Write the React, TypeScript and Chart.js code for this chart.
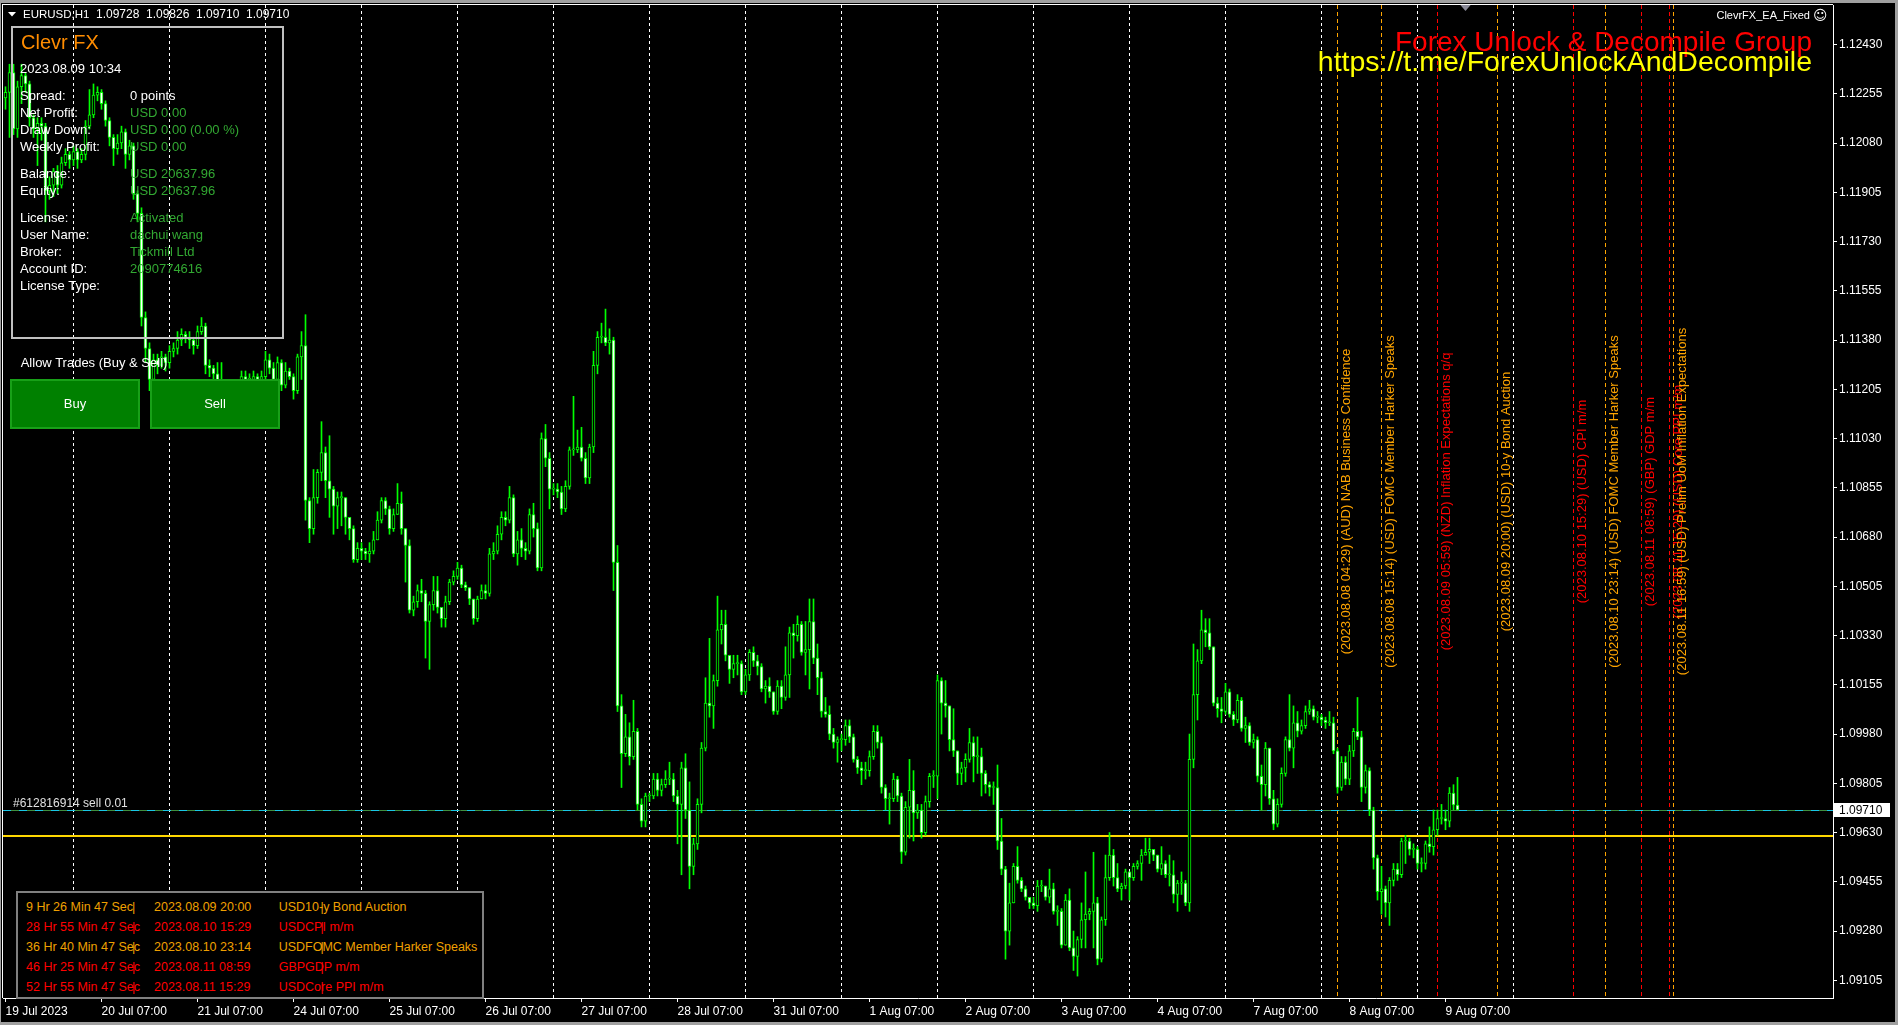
import React, { useEffect, useRef } from 'react';
import { Chart, registerables } from 'chart.js';

Chart.register(...registerables);

// ---------------- DATA ----------------
// Trading calendar (hourly bars). First visible bar: 19 Jul 06:00.
const CALENDAR = ['2023.07.19', '2023.07.20', '2023.07.21', '2023.07.24', '2023.07.25', '2023.07.26', '2023.07.27', '2023.07.28', '2023.07.31', '2023.08.01', '2023.08.02', '2023.08.03', '2023.08.04', '2023.08.07', '2023.08.08', '2023.08.09', '2023.08.10', '2023.08.11'];
const FIRST_HOUR = 6;
const FIRST_OPEN = 1220; // pips: price = 1 + v / 10000

// Closing prices per day, in pips above 1.0000
const closePips: number[][] = [
  [1224, 1226, 1233, 1213, 1228, 1232, 1229, 1217, 1213, 1215, 1214, 1191, 1193, 1198, 1193, 1201, 1204, 1202],
  [1205, 1202, 1204, 1214, 1218, 1225, 1226, 1222, 1216, 1210, 1206, 1208, 1212, 1204, 1207, 1190, 1183, 1146, 1135, 1124, 1131, 1129, 1132, 1130],
  [1134, 1135, 1138, 1140, 1139, 1138, 1136, 1141, 1143, 1129, 1128, 1126, 1123, 1119, 1116, 1114, 1119, 1122, 1125, 1124, 1124, 1125, 1124, 1125],
  [1131, 1128, 1124, 1130, 1122, 1127, 1125, 1120, 1132, 1136, 1081, 1071, 1082, 1091, 1098, 1088, 1085, 1079, 1082, 1082, 1075, 1071, 1060, 1064],
  [1063, 1062, 1063, 1067, 1074, 1081, 1078, 1071, 1076, 1080, 1071, 1065, 1042, 1045, 1049, 1048, 1038, 1044, 1049, 1043, 1039, 1045, 1052, 1054],
  [1057, 1051, 1050, 1046, 1039, 1046, 1049, 1048, 1062, 1063, 1069, 1075, 1074, 1082, 1062, 1067, 1064, 1063, 1076, 1071, 1057, 1103, 1096, 1085],
  [1085, 1084, 1078, 1086, 1099, 1099, 1100, 1096, 1089, 1100, 1129, 1139, 1139, 1137, 1138, 1059, 1008, 991, 997, 990, 999, 973, 967, 976],
  [976, 982, 978, 980, 982, 982, 976, 973, 986, 971, 951, 959, 973, 993, 1009, 1008, 1017, 1035, 1037, 1026, 1021, 1023, 1023, 1013],
  [1019, 1027, 1024, 1022, 1014, 1015, 1013, 1006, 1015, 1011, 1019, 1034, 1033, 1037, 1027, 1028, 1038, 1025, 1018, 1006, 1005, 998, 995, 996],
  [996, 1001, 997, 989, 986, 985, 985, 990, 999, 995, 979, 975, 975, 982, 976, 956, 972, 978, 970, 971, 963, 974, 983, 983],
  [1017, 1009, 1008, 996, 992, 984, 986, 989, 995, 990, 990, 984, 980, 979, 979, 960, 950, 928, 938, 951, 946, 943, 940, 938],
  [937, 944, 944, 940, 943, 935, 935, 923, 939, 922, 919, 925, 932, 934, 935, 938, 918, 932, 947, 955, 947, 943, 944, 949],
  [947, 951, 952, 955, 956, 957, 955, 950, 952, 948, 948, 941, 945, 945, 938, 989, 1012, 1024, 1035, 1034, 1029, 1009, 1007, 1006],
  [1013, 1005, 1003, 1010, 1000, 1001, 995, 996, 983, 980, 993, 975, 966, 973, 984, 996, 993, 1002, 999, 1001, 1006, 1007, 1004, 1004],
  [1003, 1002, 1002, 992, 979, 988, 982, 992, 999, 997, 979, 985, 971, 954, 942, 943, 938, 946, 950, 948, 960, 960, 957, 957],
  [952, 952, 959, 958, 964, 968, 968, 967, 977, 972.8, 971],
];
const highPips: number[][] = [
  [1226, 1228, 1236, 1236, 1230, 1236, 1233, 1230, 1218, 1217, 1217, 1215, 1196, 1199, 1200, 1203, 1206, 1205],
  [1207, 1206, 1206, 1216, 1227, 1229, 1228, 1227, 1223, 1217, 1211, 1211, 1214, 1213, 1209, 1208, 1191, 1185, 1148, 1137, 1133, 1133, 1134, 1133],
  [1136, 1137, 1141, 1142, 1141, 1141, 1139, 1143, 1146, 1144, 1131, 1129, 1130, 1130, 1122, 1119, 1121, 1124, 1127, 1127, 1126, 1127, 1126, 1127],
  [1134, 1133, 1130, 1132, 1131, 1130, 1128, 1126, 1133, 1141, 1147, 1082, 1092, 1092, 1109, 1100, 1104, 1086, 1084, 1084, 1082, 1075, 1072, 1066],
  [1066, 1064, 1066, 1070, 1077, 1082, 1082, 1079, 1078, 1087, 1084, 1071, 1067, 1047, 1051, 1053, 1049, 1045, 1054, 1054, 1043, 1047, 1053, 1056],
  [1059, 1058, 1052, 1050, 1046, 1047, 1051, 1051, 1064, 1066, 1072, 1077, 1077, 1086, 1083, 1070, 1071, 1066, 1078, 1080, 1073, 1105, 1108, 1098],
  [1087, 1087, 1086, 1088, 1100, 1118, 1106, 1107, 1098, 1101, 1134, 1141, 1144, 1149, 1142, 1139, 1065, 1012, 1005, 1002, 1010, 1000, 975, 977],
  [977, 984, 984, 982, 985, 988, 984, 978, 988, 991, 981, 961, 975, 995, 1018, 1032, 1019, 1047, 1042, 1042, 1026, 1026, 1026, 1024],
  [1021, 1028, 1029, 1026, 1023, 1017, 1018, 1013, 1017, 1017, 1029, 1036, 1037, 1040, 1038, 1038, 1046, 1046, 1030, 1020, 1011, 1008, 1000, 997],
  [998, 1003, 1003, 998, 990, 988, 988, 992, 1001, 1001, 997, 980, 977, 984, 983, 977, 974, 989, 985, 973, 973, 976, 984, 985],
  [1019, 1018, 1017, 1007, 1007, 992, 988, 991, 1000, 997, 997, 993, 985, 981, 981, 987, 968, 951, 945, 952, 958, 947, 944, 940],
  [940, 946, 946, 944, 950, 945, 937, 936, 941, 943, 928, 926, 938, 949, 936, 956, 940, 933, 955, 963, 957, 952, 945, 950],
  [949, 952, 953, 957, 961, 961, 957, 955, 958, 953, 955, 953, 946, 949, 946, 998, 1030, 1028, 1042, 1039, 1039, 1029, 1011, 1011],
  [1016, 1014, 1006, 1012, 1011, 1004, 1002, 998, 997, 987, 995, 993, 978, 975, 986, 997, 1012, 1008, 1006, 1003, 1008, 1010, 1008, 1006],
  [1005, 1004, 1006, 1004, 993, 990, 990, 994, 1000, 1011, 999, 987, 986, 972, 955, 951, 944, 947, 952, 952, 961, 962, 961, 959],
  [958, 954, 960, 965, 971, 971, 973, 971, 979, 980, 982.6],
];
const lowPips: number[][] = [
  [1219, 1220, 1210, 1211, 1210, 1222, 1226, 1214, 1210, 1200, 1209, 1180, 1188, 1189, 1190, 1192, 1200, 1199],
  [1200, 1199, 1201, 1202, 1213, 1217, 1223, 1220, 1214, 1207, 1200, 1204, 1206, 1199, 1202, 1188, 1180, 1143, 1130, 1120, 1122, 1126, 1128, 1127],
  [1128, 1132, 1133, 1136, 1137, 1135, 1133, 1135, 1140, 1126, 1125, 1122, 1120, 1115, 1113, 1110, 1112, 1118, 1121, 1121, 1122, 1123, 1122, 1121],
  [1121, 1126, 1120, 1122, 1120, 1121, 1124, 1117, 1119, 1124, 1074, 1066, 1069, 1080, 1088, 1082, 1075, 1069, 1071, 1072, 1069, 1067, 1059, 1059],
  [1060, 1060, 1059, 1062, 1067, 1073, 1076, 1069, 1070, 1076, 1069, 1052, 1041, 1040, 1043, 1045, 1025, 1021, 1042, 1041, 1036, 1036, 1044, 1051],
  [1053, 1050, 1049, 1044, 1037, 1038, 1046, 1046, 1047, 1060, 1062, 1067, 1072, 1073, 1061, 1058, 1061, 1060, 1062, 1068, 1056, 1056, 1093, 1078],
  [1083, 1082, 1076, 1077, 1085, 1097, 1098, 1095, 1087, 1087, 1098, 1126, 1137, 1136, 1133, 1049, 1006, 979, 990, 987, 989, 971, 965, 965],
  [974, 975, 976, 976, 979, 980, 974, 959, 948, 968, 943, 948, 957, 970, 992, 1004, 1000, 1015, 1030, 1024, 1016, 1018, 1019, 1012],
  [1012, 1017, 1022, 1019, 1013, 1009, 1011, 1005, 1005, 1007, 1010, 1011, 1025, 1031, 1026, 1019, 1014, 1023, 1012, 1004, 1004, 996, 993, 988],
  [992, 994, 995, 988, 984, 980, 982, 983, 989, 993, 977, 971, 966, 974, 974, 952, 955, 961, 960, 968, 961, 962, 972, 979],
  [975, 998, 1004, 992, 990, 980, 980, 981, 988, 981, 984, 976, 977, 976, 973, 957, 948, 918, 923, 938, 945, 942, 939, 936],
  [936, 935, 942, 939, 938, 934, 930, 922, 923, 921, 914, 912, 922, 922, 932, 922, 916, 917, 930, 946, 944, 942, 939, 943],
  [939, 946, 950, 946, 955, 952, 953, 949, 948, 947, 944, 938, 935, 941, 937, 935, 986, 1003, 1023, 1029, 1028, 1008, 1004, 1002],
  [1005, 1004, 1001, 1002, 999, 995, 994, 993, 981, 971, 976, 973, 964, 965, 972, 983, 992, 986, 997, 998, 1000, 1005, 1003, 1002],
  [1001, 1000, 1001, 991, 977, 978, 980, 980, 990, 996, 974, 977, 969, 950, 939, 934, 933, 930, 944, 946, 947, 952, 955, 954],
  [950, 949, 950, 956, 955, 962, 966, 964, 965, 971, 971],
];

const X_TICK_LABELS = ['19 Jul 2023', '20 Jul 07:00', '21 Jul 07:00', '24 Jul 07:00', '25 Jul 07:00', '26 Jul 07:00', '27 Jul 07:00', '28 Jul 07:00', '31 Jul 07:00', '1 Aug 07:00', '2 Aug 07:00', '3 Aug 07:00', '4 Aug 07:00', '7 Aug 07:00', '8 Aug 07:00', '9 Aug 07:00'];
const PRICE_TICKS = [1.12430, 1.12255, 1.12080, 1.11905, 1.11730, 1.11555, 1.11380, 1.11205, 1.11030, 1.10855, 1.10680, 1.10505, 1.10330, 1.10155, 1.09980, 1.09805, 1.09630, 1.09455, 1.09280, 1.09105];

const BID_PRICE = 1.0971;
const LEVEL_PRICE = 1.09617;

const EVENT_TIMES = ['2023.08.08 04:29', '2023.08.08 15:14', '2023.08.09 05:59', '2023.08.09 20:00', '2023.08.10 15:29', '2023.08.10 23:14', '2023.08.11 08:59', '2023.08.11 15:29', '2023.08.11 16:59'];
const EVENT_TEXTS = ['(AUD) NAB Business Confidence', '(USD) FOMC Member Harker Speaks', '(NZD) Inflation Expectations q/q', '(USD) 10-y Bond Auction', '(USD) CPI m/m', '(USD) FOMC Member Harker Speaks', '(GBP) GDP m/m', '(USD) Core PPI m/m', '(USD) Prelim UoM Inflation Expectations'];
const EVENT_IMPACT = ['mid', 'mid', 'high', 'mid', 'high', 'mid', 'high', 'high', 'mid'];

const PANEL_LABELS = ['Spread:', 'Net Profit:', 'Draw Down:', 'Weekly Profit:', 'Balance:', 'Equity:', 'License:', 'User Name:', 'Broker:', 'Account ID:', 'License Type:'];
const PANEL_VALUES = ['0 points', 'USD 0.00', 'USD 0.00 (0.00 %)', 'USD 0.00', 'USD 20637.96', 'USD 20637.96', 'Activated', 'dachui wang', 'Tickmill Ltd', '2090774616', ''];

const TABLE_COUNTDOWN = ['9 Hr 26 Min 47 Sec', '28 Hr 55 Min 47 Sec', '36 Hr 40 Min 47 Sec', '46 Hr 25 Min 47 Sec', '52 Hr 55 Min 47 Sec'];
const TABLE_TIMES = ['2023.08.09 20:00', '2023.08.10 15:29', '2023.08.10 23:14', '2023.08.11 08:59', '2023.08.11 15:29'];
const TABLE_EVENTS = ['USD10-y Bond Auction', 'USDCPI m/m', 'USDFOMC Member Harker Speaks', 'GBPGDP m/m', 'USDCore PPI m/m'];
const TABLE_IMPACT = ['mid', 'high', 'mid', 'high', 'high'];

// ---------------- BUILD ----------------
const toPrice = (v: number) => 1 + v / 10000;
const barIndexOf = (date: string, hour: number) => CALENDAR.indexOf(date) * 24 - FIRST_HOUR + hour;

type Candle = { i: number; o: number; h: number; l: number; c: number };
const candles: Candle[] = [];
{
  let open = FIRST_OPEN;
  let i = 0;
  closePips.forEach((day, d) => {
    day.forEach((c, k) => {
      const h = Math.max(highPips[d][k], open, c);
      const l = Math.min(lowPips[d][k], open, c);
      candles.push({ i, o: toPrice(open), h: toPrice(h), l: toPrice(l), c: toPrice(c) });
      open = c;
      i++;
    });
  });
}
const xTickIdx = X_TICK_LABELS.map((_, d) => barIndexOf(CALENDAR[d], 7));
const separatorIdx = CALENDAR.slice(1, 17).map((d) => barIndexOf(d, 0));
const events = EVENT_TIMES.map((t, n) => {
  const [date, time] = t.split(' ');
  return { idx: barIndexOf(date, parseInt(time.slice(0, 2), 10)), text: `(${t}) ${EVENT_TEXTS[n]}`, color: EVENT_IMPACT[n] === 'high' ? '#ff0000' : '#ffa500' };
});

// ---------------- LAYOUT ----------------
const W = 1898;
const H = 1025;
const FONT = '"Liberation Sans", Arial, sans-serif';
const X_MIN = 0.375;
const X_MAX = 457.875;
const Y_MIN = 1.090421;
const Y_MAX = 1.125705;

const overlayPlugin = {
  id: 'mt4Overlay',
  beforeDatasetsDraw(chart: any) {
    const { ctx, chartArea: a, scales } = chart;
    const x = scales.x;
    const y = scales.y;
    ctx.save();
    ctx.beginPath();
    ctx.rect(a.left, a.top, a.right - a.left, a.bottom - a.top);
    ctx.clip();
    ctx.lineWidth = 1;
    // day separators
    ctx.strokeStyle = '#ffffff';
    ctx.setLineDash([3, 3]);
    separatorIdx.forEach((idx) => {
      const px = Math.floor(x.getPixelForValue(idx)) + 0.5;
      ctx.beginPath();
      ctx.moveTo(px, a.top);
      ctx.lineTo(px, a.bottom);
      ctx.stroke();
    });
    // news event lines
    ctx.setLineDash([4, 3]);
    events.forEach((e) => {
      const px = Math.floor(x.getPixelForValue(e.idx)) + 0.5;
      ctx.strokeStyle = e.color;
      ctx.beginPath();
      ctx.moveTo(px, a.top);
      ctx.lineTo(px, a.bottom);
      ctx.stroke();
    });
    // level line (yellow)
    ctx.setLineDash([]);
    const yl = Math.round(y.getPixelForValue(LEVEL_PRICE));
    ctx.strokeStyle = '#ffd700';
    ctx.lineWidth = 2;
    ctx.beginPath();
    ctx.moveTo(a.left, yl);
    ctx.lineTo(a.right, yl);
    ctx.stroke();
    // order / bid line
    const yb = Math.floor(y.getPixelForValue(BID_PRICE)) + 0.5;
    ctx.lineWidth = 1;
    ctx.strokeStyle = '#3f8f3f';
    ctx.beginPath();
    ctx.moveTo(a.left, yb);
    ctx.lineTo(a.right, yb);
    ctx.stroke();
    ctx.setLineDash([8, 8]);
    ctx.strokeStyle = '#19c6e6';
    ctx.beginPath();
    ctx.moveTo(a.left, yb);
    ctx.lineTo(a.right, yb);
    ctx.stroke();
    ctx.restore();
  },
  afterDatasetsDraw(chart: any) {
    const { ctx, chartArea: a, scales } = chart;
    const x = scales.x;
    const midY = (a.top + a.bottom) / 2;
    ctx.save();
    ctx.font = `13px ${FONT}`;
    ctx.textAlign = 'center';
    ctx.textBaseline = 'top';
    events.forEach((e) => {
      const px = Math.floor(x.getPixelForValue(e.idx)) + 0.5;
      ctx.save();
      ctx.translate(px + 2.5, midY);
      ctx.rotate(-Math.PI / 2);
      ctx.fillStyle = e.color;
      ctx.fillText(e.text, 0, 0);
      ctx.restore();
    });
    ctx.restore();
  },
  afterDraw(chart: any) {
    const { ctx, chartArea: a, scales } = chart;
    const y = scales.y;
    const x = scales.x;
    ctx.save();
    // current price label
    const yb = y.getPixelForValue(BID_PRICE);
    ctx.fillStyle = '#ffffff';
    ctx.fillRect(a.right + 1, Math.round(yb) - 7, 56, 14);
    ctx.fillStyle = '#000000';
    ctx.font = `12px ${FONT}`;
    ctx.textBaseline = 'middle';
    ctx.textAlign = 'left';
    ctx.fillText(BID_PRICE.toFixed(5), a.right + 6, Math.round(yb) + 0.5);
    // chart shift marker
    const sx = x.getPixelForValue(candles.length + 1);
    ctx.fillStyle = '#8a8a98';
    ctx.beginPath();
    ctx.moveTo(sx - 6, 4);
    ctx.lineTo(sx + 6, 4);
    ctx.lineTo(sx, 11);
    ctx.closePath();
    ctx.fill();
    // header triangle
    ctx.fillStyle = '#ffffff';
    ctx.beginPath();
    ctx.moveTo(8, 12);
    ctx.lineTo(16, 12);
    ctx.lineTo(12, 16.5);
    ctx.closePath();
    ctx.fill();
    // frame
    ctx.fillStyle = '#a0a0a0';
    ctx.fillRect(0, 0, W, 3);
    ctx.fillRect(0, 0, 1, H);
    ctx.fillRect(W - 3, 0, 3, H);
    ctx.fillRect(0, H - 3, W, 3);
    ctx.fillStyle = '#ffffff';
    ctx.fillRect(2, 4, 1, a.bottom - 4);
    ctx.fillRect(2, 4, a.right - 2, 1);
    ctx.restore();
  },
};

const Txt = ({ x, cy, size, color, children, right, family }: any) => (
  <div
    style={{
      position: 'absolute',
      left: right ? undefined : x,
      right: right ? W - x : undefined,
      top: cy - size / 2,
      fontSize: size,
      lineHeight: `${size}px`,
      fontFamily: family || FONT,
      color,
      whiteSpace: 'pre',
    }}
  >
    {children}
  </div>
);

const PANEL_ROWS_Y = [95.7, 112.3, 129.3, 146, 173, 190.3, 217.3, 234.3, 251.3, 268.3, 285.3];
const TABLE_ROWS_Y = [907.3, 927.3, 947.3, 967.3, 987.3];
const GREEN_TXT = '#32a832';
const ORANGE_TXT = '#f0a000';

export default function App() {
  const canvasRef = useRef<HTMLCanvasElement | null>(null);

  useEffect(() => {
    if (!canvasRef.current) return;
    const wickData = candles.map((c) => ({ x: c.i, y: [c.l, c.h] }));
    const bodyData = candles.map((c) => ({ x: c.i, y: [c.o, c.c] }));
    const bodyFill = candles.map((c) => (c.c < c.o ? '#ffffff' : '#000000'));
    const chart = new Chart(canvasRef.current, {
      type: 'bar',
      data: {
        datasets: [
          {
            label: 'wick',
            data: wickData as any,
            barThickness: 1,
            backgroundColor: '#00ff00',
            borderWidth: 0,
            grouped: false,
            order: 2,
          } as any,
          {
            label: 'body',
            data: bodyData as any,
            barThickness: 3,
            backgroundColor: bodyFill,
            borderColor: '#00ff00',
            borderWidth: 1,
            borderSkipped: false,
            minBarLength: 1,
            grouped: false,
            order: 1,
          } as any,
        ],
      },
      options: {
        responsive: false,
        maintainAspectRatio: false,
        animation: false,
        devicePixelRatio: 1,
        events: [],
        layout: { padding: { left: 3, top: 5, right: 0, bottom: 0 } },
        plugins: { legend: { display: false }, tooltip: { enabled: false }, title: { display: false } },
        scales: {
          x: {
            type: 'linear',
            min: X_MIN,
            max: X_MAX,
            offset: false,
            grid: { display: true, offset: false, drawOnChartArea: false, drawTicks: true, tickLength: 4, color: '#ffffff' },
            border: { display: true, color: '#ffffff' },
            ticks: {
              color: '#ffffff',
              font: { family: FONT, size: 12 },
              autoSkip: false,
              maxRotation: 0,
              minRotation: 0,
              align: 'start',
              padding: 2,
              callback: (_v: any, index: number) => X_TICK_LABELS[index],
            },
            afterBuildTicks: (s: any) => {
              s.ticks = xTickIdx.map((v) => ({ value: v }));
            },
            afterFit: (s: any) => {
              s.height = 27;
              s.paddingLeft = 0;
              s.paddingRight = 0;
            },
          },
          y: {
            type: 'linear',
            position: 'right',
            min: Y_MIN,
            max: Y_MAX,
            grid: { display: true, drawOnChartArea: false, drawTicks: true, tickLength: 4, color: '#ffffff' },
            border: { display: true, color: '#ffffff' },
            ticks: {
              color: '#ffffff',
              font: { family: FONT, size: 12 },
              autoSkip: false,
              padding: 2,
              callback: (v: any) => Number(v).toFixed(5),
            },
            afterBuildTicks: (s: any) => {
              s.ticks = PRICE_TICKS.map((v) => ({ value: v }));
            },
            afterFit: (s: any) => {
              s.width = 65;
              s.paddingTop = 0;
              s.paddingBottom = 0;
            },
          },
        },
      } as any,
      plugins: [overlayPlugin],
    });
    return () => chart.destroy();
  }, []);

  return (
    <div style={{ position: 'fixed', left: 0, top: 0, width: W, height: H, background: '#000', overflow: 'hidden' }}>
      <canvas ref={canvasRef} width={W} height={H} style={{ position: 'absolute', left: 0, top: 0, width: W, height: H }} />

      {/* header */}
      <Txt x={23} cy={14.3} size={11.5} color="#fff">EURUSD,H1</Txt>
      <Txt x={96} cy={14.3} size={12} color="#fff">1.09728</Txt>
      <Txt x={146} cy={14.3} size={12} color="#fff">1.09826</Txt>
      <Txt x={196} cy={14.3} size={12} color="#fff">1.09710</Txt>
      <Txt x={246} cy={14.3} size={12} color="#fff">1.09710</Txt>

      {/* top right */}
      <Txt x={1810} right cy={15} size={11} color="#fff">ClevrFX_EA_Fixed</Txt>
      <Txt x={1813} cy={15} size={14} color="#fff" family='"DejaVu Sans", sans-serif'>☺</Txt>
      <Txt x={1812} right cy={42} size={28} color="#ff0000">Forex Unlock &amp; Decompile Group</Txt>
      <Txt x={1812} right cy={61} size={28.5} color="#ffff00">https://t.me/ForexUnlockAndDecompile</Txt>

      {/* info panel */}
      <div style={{ position: 'absolute', left: 11, top: 26, width: 273, height: 313, border: '2px solid #c0c0c0', boxSizing: 'border-box' }} />
      <Txt x={21} cy={41.7} size={20} color="#ff8c00">Clevr FX</Txt>
      <Txt x={20} cy={68.3} size={13} color="#fff">2023.08.09 10:34</Txt>
      {PANEL_LABELS.map((l, n) => (
        <Txt key={'pl' + n} x={20} cy={PANEL_ROWS_Y[n]} size={13} color="#fff">{l}</Txt>
      ))}
      {PANEL_VALUES.map((v, n) => (
        <Txt key={'pv' + n} x={130} cy={PANEL_ROWS_Y[n]} size={13} color={n === 0 ? '#fff' : GREEN_TXT}>{v}</Txt>
      ))}
      <Txt x={20.7} cy={362.3} size={13} color="#fff">Allow Trades (Buy &amp; Sell)</Txt>
      <div style={{ position: 'absolute', left: 10, top: 379, width: 130, height: 50, background: '#008000', border: '2px solid #18a018', boxSizing: 'border-box', color: '#fff', fontFamily: FONT, fontSize: 13, lineHeight: '46px', textAlign: 'center' }}>Buy</div>
      <div style={{ position: 'absolute', left: 150, top: 379, width: 130, height: 50, background: '#008000', border: '2px solid #18a018', boxSizing: 'border-box', color: '#fff', fontFamily: FONT, fontSize: 13, lineHeight: '46px', textAlign: 'center' }}>Sell</div>

      {/* order label */}
      <Txt x={13} cy={802.6} size={12} color="#e0e0e0">#612816914 sell 0.01</Txt>

      {/* news table */}
      <div style={{ position: 'absolute', left: 16, top: 891, width: 468, height: 108, border: '2px solid #808080', boxSizing: 'border-box', background: '#000' }} />
      {TABLE_COUNTDOWN.map((t, n) => {
        const col = TABLE_IMPACT[n] === 'high' ? '#ff0000' : ORANGE_TXT;
        return (
          <React.Fragment key={'tr' + n}>
            <Txt x={26} cy={TABLE_ROWS_Y[n]} size={12.5} color={col}>{t}</Txt>
            <Txt x={132} cy={TABLE_ROWS_Y[n]} size={12.5} color={col}>|</Txt>
            <Txt x={154} cy={TABLE_ROWS_Y[n]} size={12.5} color={col}>{TABLE_TIMES[n]}</Txt>
            <Txt x={278.7} cy={TABLE_ROWS_Y[n]} size={12.5} color={col}>{TABLE_EVENTS[n]}</Txt>
            <Txt x={320.5} cy={TABLE_ROWS_Y[n]} size={12.5} color={col}>|</Txt>
          </React.Fragment>
        );
      })}
    </div>
  );
}
